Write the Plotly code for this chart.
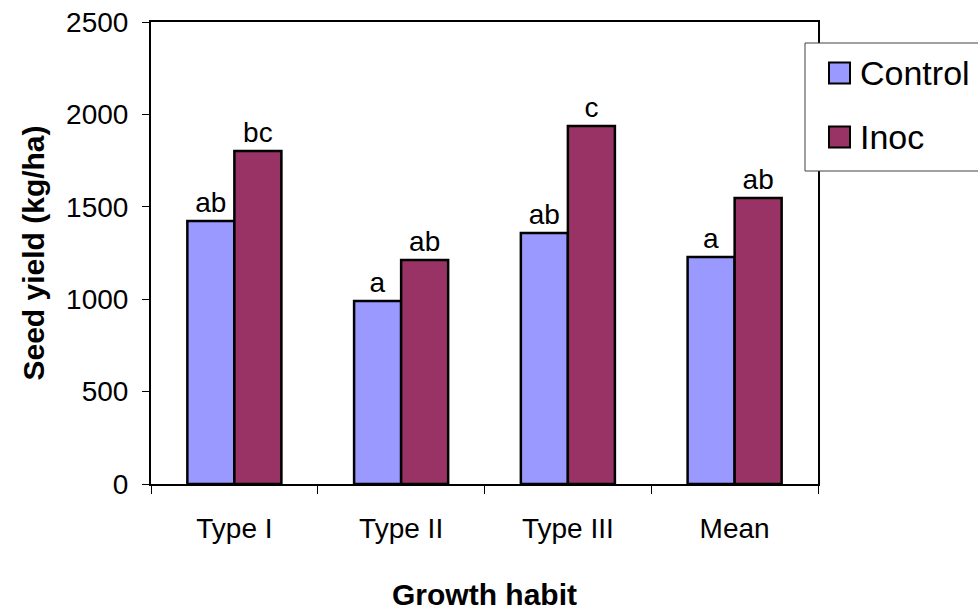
import plotly.graph_objects as go

categories = ["Type I", "Type II", "Type III", "Mean"]
control = [1423, 990, 1358, 1228]
inoc = [1802, 1212, 1937, 1548]
control_letters = ["ab", "a", "ab", "a"]
inoc_letters = ["bc", "ab", "c", "ab"]
series_names = ["Control", "Inoc"]
y_ticks = [0, 500, 1000, 1500, 2000, 2500]

COL_CONTROL = "#9999FF"
COL_INOC = "#993366"
FONT = "Liberation Sans, Arial, sans-serif"

W, H = 978, 613
L, R, T, B = 151, 160, 22, 129
PW = W - L - R
PH = H - T - B


def px(x):
    return (x - L) / PW


def py(y):
    return (H - B - y) / PH


fig = go.Figure()
for name, vals, letters, col in [
    (series_names[0], control, control_letters, COL_CONTROL),
    (series_names[1], inoc, inoc_letters, COL_INOC),
]:
    fig.add_trace(go.Bar(
        x=categories, y=vals, name=name,
        marker=dict(color=col, line=dict(color="black", width=2.5)),
        text=letters, textposition="outside", cliponaxis=False,
        constraintext="none",
        textfont=dict(family=FONT, size=28, color="black"),
        showlegend=False, hoverinfo="skip",
    ))

fig.update_layout(
    width=W, height=H,
    margin=dict(l=L, r=R, t=T, b=B, autoexpand=False),
    paper_bgcolor="white", plot_bgcolor="white",
    barmode="group", bargap=0.436, bargroupgap=0,
    font=dict(family=FONT, size=28, color="black"),
    xaxis=dict(
        showline=True, linecolor="black", linewidth=2, mirror=True,
        ticks="outside", tickson="boundaries", ticklen=8, tickcolor="black",
        tickwidth=1, showgrid=False, ticklabelstandoff=18,
        tickfont=dict(family=FONT, size=28),
        title=dict(text="<b>Growth habit</b>", font=dict(family=FONT, size=30), standoff=41),
        automargin=False,
    ),
    yaxis=dict(
        range=[0, 2500], tickvals=y_ticks,
        showline=True, linecolor="black", linewidth=2, mirror=True,
        ticks="outside", ticklen=7, tickcolor="black", tickwidth=1,
        showgrid=False, zeroline=False, ticklabelstandoff=8,
        tickfont=dict(family=FONT, size=28),
        title=dict(text="<b>Seed yield (kg/ha)</b>", font=dict(family=FONT, size=30), standoff=13),
        automargin=False,
    ),
)

# legend box (drawn manually to match the large swatches)
shapes = [dict(type="rect", xref="paper", yref="paper",
               x0=px(805), x1=px(995), y0=py(171), y1=py(43),
               fillcolor="white", line=dict(color="#404040", width=1), layer="above")]
annotations = []
for i, (name, col) in enumerate(zip(series_names, [COL_CONTROL, COL_INOC])):
    cy = 73 + i * 64
    shapes.append(dict(type="rect", xref="paper", yref="paper",
                       x0=px(829), x1=px(850), y0=py(cy + 10.5), y1=py(cy - 10.5),
                       fillcolor=col, line=dict(color="black", width=2), layer="above"))
    annotations.append(dict(xref="paper", yref="paper", x=px(858), y=py(cy),
                            text=name, showarrow=False, xanchor="left", yanchor="middle",
                            font=dict(family=FONT, size=34, color="black")))
fig.update_layout(shapes=shapes, annotations=annotations)

fig.write_html("out.html", config={"displayModeBar": False},
               post_script="document.body.style.margin='0';")
